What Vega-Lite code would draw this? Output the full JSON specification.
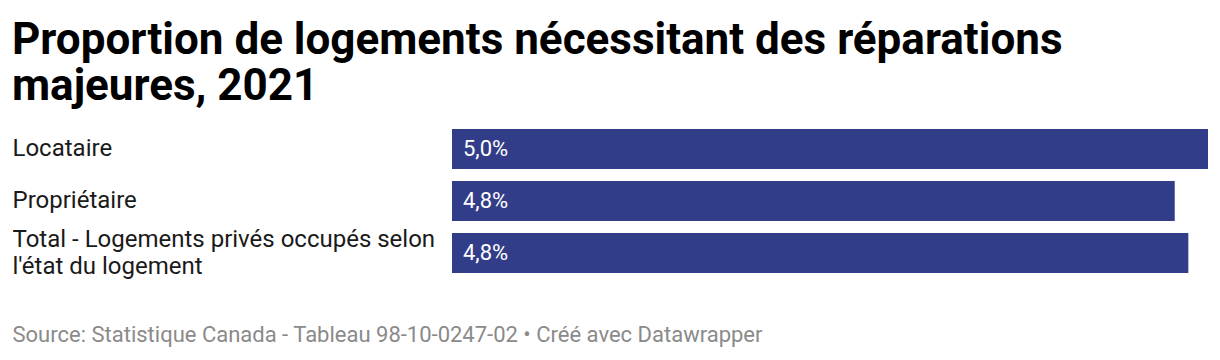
{
  "$schema": "https://vega.github.io/schema/vega-lite/v6.json",
  "width": 756,
  "height": 144,
  "padding": {"left": 12, "top": 19, "right": 12, "bottom": 8},
  "background": "#ffffff",
  "title": {
    "text": ["Proportion de logements nécessitant des réparations", "majeures, 2021"],
    "anchor": "start",
    "frame": "bounds",
    "font": "Roboto",
    "fontSize": 44,
    "fontWeight": "bold",
    "lineHeight": 46,
    "color": "#000000",
    "offset": 20
  },
  "data": {
    "values": [
      {"categorie": "Locataire", "valeur": 5.0, "etiquette": "5,0%"},
      {"categorie": "Propriétaire", "valeur": 4.78, "etiquette": "4,8%"},
      {"categorie": "Total - Logements privés occupés selon l'état du logement", "valeur": 4.87, "etiquette": "4,8%"}
    ]
  },
  "encoding": {
    "y": {
      "field": "categorie",
      "type": "nominal",
      "sort": null,
      "scale": {"paddingInner": 0.23, "paddingOuter": 0},
      "axis": {
        "title": null,
        "domain": false,
        "ticks": false,
        "tickSize": 0,
        "labelAlign": "left",
        "labelPadding": 440,
        "labelLimit": 440,
        "labelFont": "Roboto",
        "labelFontSize": 24,
        "labelColor": "#1a1a1a",
        "labelLineHeight": 27,
        "labelBaseline": "middle",
        "labelOffset": {"condition": {"test": "indexof(datum.value, 'Total') == 0", "value": -13}, "value": 0},
        "labelExpr": "indexof(datum.label, 'Total') == 0 ? ['Total - Logements privés occupés selon', \"l'état du logement\"] : datum.label"
      }
    }
  },
  "layer": [
    {
      "mark": {"type": "bar", "color": "#323d8a", "cornerRadius": 0},
      "encoding": {
        "x": {
          "field": "valeur",
          "type": "quantitative",
          "scale": {"domain": [0, 5], "nice": false},
          "axis": {
            "title": "Source: Statistique Canada - Tableau 98-10-0247-02 • Créé avec Datawrapper",
            "titleFont": "Roboto",
            "titleFontSize": 22,
            "titleFontWeight": "normal",
            "titleColor": "#8a8a8a",
            "titleAnchor": "start",
            "titleAlign": "left",
            "titleBaseline": "alphabetic",
            "titleX": -440,
            "titleY": 68,
            "labels": false,
            "ticks": false,
            "domain": false,
            "grid": false
          }
        }
      }
    },
    {
      "mark": {"type": "text", "align": "left", "baseline": "middle", "dx": 11, "font": "Roboto", "fontSize": 22, "color": "#ffffff"},
      "encoding": {
        "x": {"datum": 0, "type": "quantitative"},
        "text": {"field": "etiquette"}
      }
    }
  ],
  "config": {
    "view": {"stroke": null}
  }
}
